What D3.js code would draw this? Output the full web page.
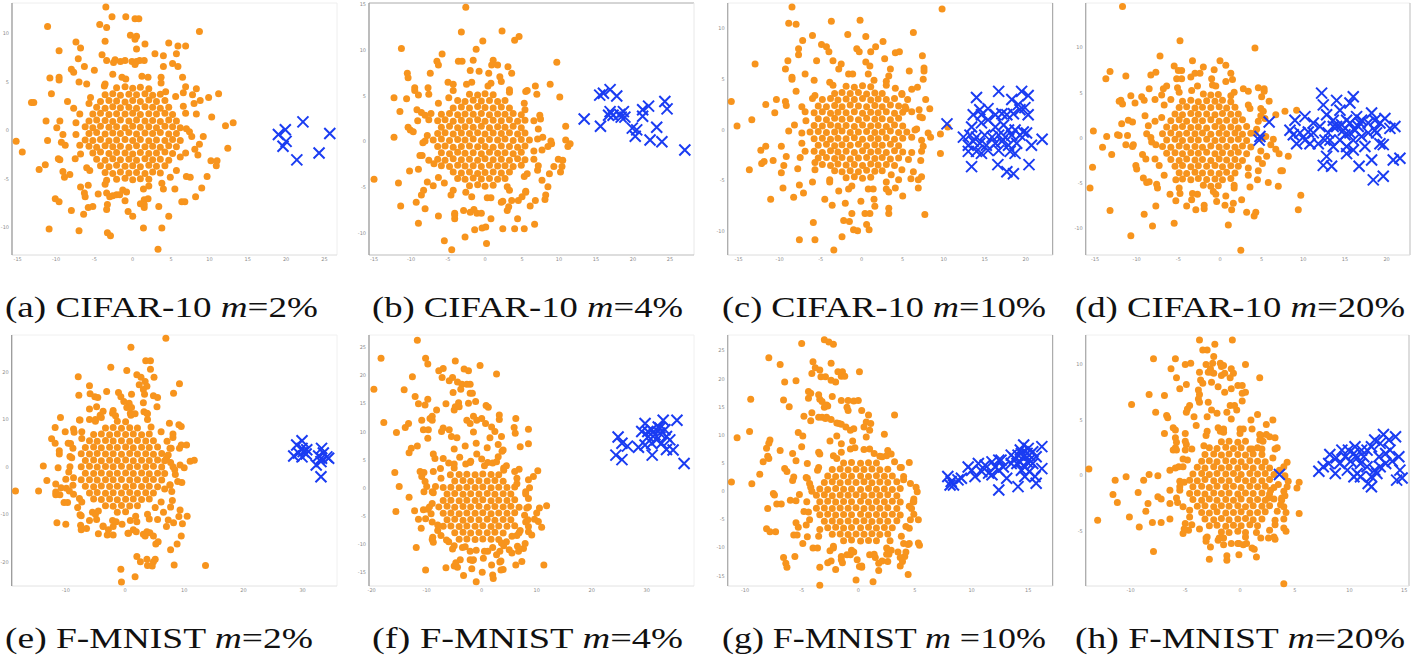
<!DOCTYPE html>
<meta charset="utf-8">
<style>
body{margin:0;background:#fff;}
.tick-label{font-family:"DejaVu Sans",sans-serif;font-size:5px;fill:#8c8c8c;}
.caption{font-family:"Liberation Serif","DejaVu Serif",serif;font-size:29px;fill:#111;}
</style>
<body>
<div id="fig"></div>
<script src="https://d3js.org/d3.v7.min.js"></script>
<script>
// ---- caption text ----
var panelLetters = ["(a)","(b)","(c)","(d)","(e)","(f)","(g)","(h)"];
var datasetNames = ["CIFAR-10","CIFAR-10","CIFAR-10","CIFAR-10","F-MNIST","F-MNIST","F-MNIST","F-MNIST"];
var mLabels = ["=2%","=4%","=10%","=20%","=2%","=4%"," =10%","=20%"];

// ---- axis domains and tick labels ----
var xDomains = [[-15.74,26.64],[-15.68,28.24],[-16.34,23.29],[-16.12,22.81],[-19.14,35.81],[-20.49,38.6],[-11.53,17.16],[-14.09,15.43]];
var yDomains = [[-12.78,13.12],[-12.36,15.16],[-12.29,12.49],[-12.92,14.98],[-25.04,27.91],[-17.35,27.23],[-16.75,27.83],[-9.91,12.64]];
var xTickVals = [[-15,-10,-5,0,5,10,15,20,25],[-15,-10,-5,0,5,10,15,20,25],[-15,-10,-5,0,5,10,15,20],[-15,-10,-5,0,5,10,15,20],
                 [-10,0,10,20,30],[-20,-10,0,10,20,30],[-10,-5,0,5,10,15],[-10,-5,0,5,10,15]];
var yTickVals = [[-10,-5,0,5,10],[-10,-5,0,5,10,15],[-10,-5,0,5,10],[-10,-5,0,5,10],
                 [-20,-10,0,10,20],[-15,-10,-5,0,5,10,15,20,25],[-15,-10,-5,0,5,10,15,20,25],[-5,0,5,10]];

// ---- (a) CIFAR-10 m=2% ----
var orangeA = [
[-2.1,4.4],[-1.0,4.5],[0.0,4.35],[1.0,4.45],[2.1,4.3],
[-3.6,3.7],[-2.6,3.8],[-1.6,3.65],[-0.5,3.75],[0.5,3.7],[1.6,3.8],[2.6,3.65],[3.6,3.75],
[-4.2,3.0],[-3.1,3.1],[-2.1,3.05],[-1.0,2.95],[0.0,3.1],[1.0,3.0],[2.1,3.15],[3.1,3.0],[4.2,3.1],
[-4.7,2.4],[-3.6,2.3],[-2.6,2.45],[-1.6,2.35],[-0.5,2.4],[0.5,2.3],[1.6,2.45],[2.6,2.4],[3.6,2.3],[4.7,2.4],
[-5.2,1.7],[-4.2,1.8],[-3.1,1.65],[-2.1,1.75],[-1.0,1.7],[0.0,1.8],[1.0,1.65],[2.1,1.75],[3.1,1.7],[4.2,1.8],[5.2,1.65],
[-5.7,1.0],[-4.7,1.1],[-3.6,1.05],[-2.6,0.95],[-1.6,1.1],[-0.5,1.0],[0.5,1.1],[1.6,1.0],[2.6,1.05],[3.6,0.95],[4.7,1.1],[5.7,1.0],
[-6.2,0.4],[-5.2,0.3],[-4.2,0.45],[-3.1,0.35],[-2.1,0.4],[-1.0,0.3],[0.0,0.45],[1.0,0.35],[2.1,0.4],[3.1,0.3],[4.2,0.45],[5.2,0.4],[6.2,0.3],
[-5.7,-0.3],[-4.7,-0.2],[-3.6,-0.35],[-2.6,-0.25],[-1.6,-0.3],[-0.5,-0.2],[0.5,-0.35],[1.6,-0.25],[2.6,-0.3],[3.6,-0.2],[4.7,-0.35],[5.7,-0.3],
[-6.2,-0.95],[-5.2,-1.0],[-4.2,-0.9],[-3.1,-1.05],[-2.1,-0.95],[-1.0,-0.9],[0.0,-1.0],[1.0,-0.9],[2.1,-1.05],[3.1,-0.95],[4.2,-1.0],[5.2,-0.9],[6.2,-1.0],
[-5.7,-1.6],[-4.7,-1.7],[-3.6,-1.55],[-2.6,-1.65],[-1.6,-1.6],[-0.5,-1.7],[0.5,-1.55],[1.6,-1.65],[2.6,-1.6],[3.6,-1.7],[4.7,-1.55],[5.7,-1.65],
[-5.2,-2.3],[-4.2,-2.2],[-3.1,-2.35],[-2.1,-2.25],[-1.0,-2.3],[0.0,-2.4],[1.0,-2.25],[2.1,-2.35],[3.1,-2.3],[4.2,-2.2],[5.2,-2.35],
[-4.7,-2.95],[-3.6,-3.05],[-2.6,-2.9],[-1.6,-3.0],[-0.5,-2.95],[0.5,-3.05],[1.6,-2.9],[2.6,-3.0],[3.6,-2.95],[4.7,-3.05],
[-4.2,-3.6],[-3.1,-3.7],[-2.1,-3.55],[-1.0,-3.65],[0.0,-3.6],[1.0,-3.7],[2.1,-3.55],[3.1,-3.65],[4.2,-3.6],
[-3.6,-4.3],[-2.6,-4.4],[-1.6,-4.25],[-0.5,-4.35],[0.5,-4.3],[1.6,-4.4],[2.6,-4.25],[3.6,-4.35],
[-2.1,-5.0],[-1.0,-4.9],[0.0,-5.05],[1.0,-4.95],[2.1,-5.0],
[7.4,-0.1],[6.9,1.8],[5.6,3.5],[3.7,4.9],[1.2,5.6],[-1.4,5.5],[-3.6,4.8],[-5.5,3.4],[-6.9,1.7],[-7.4,-0.4],[-6.8,-2.4],[-5.6,-4.1],
[-3.6,-5.5],[-1.3,-6.1],[1.4,-6.0],[3.8,-5.4],[5.7,-4.1],[6.9,-2.3],
[-3.5,12.7],[-2.7,11.7],[-0.9,11.7],[0.3,11.5],[0.8,11.5],[-11.1,10.7],[-4.3,10.9],[-3.4,10.6],[8.7,10.2],[-0.3,9.8],[0.5,9.7],[0.3,9.4],
[-3.6,9.2],[-7.4,9.1],[1.6,8.9],[4.7,9.0],[5.9,8.7],[6.9,8.7],[-9.6,8.2],[-6.8,8.5],[0.5,8.4],[2.9,7.9],[4.0,7.7],[5.7,7.9],[-4.0,7.8],
[-7.1,7.4],[-2.3,7.3],[-1.6,7.1],[-1.0,7.2],[-0.1,7.1],[0.5,7.1],[0.9,7.2],[5.2,6.9],[5.9,6.6],[-6.3,6.6],[-8.0,6.3],[-7.7,6.0],
[-10.8,5.4],[-9.6,5.5],[-9.6,5.2],[-10.6,3.8],[-13.2,2.9],[-12.9,2.9],[-11.3,1.0],[11.2,3.8],[9.9,3.4],[8.8,3.1],[7.8,3.7],[6.6,3.9],
[10.3,1.4],[13.1,0.8],[12.1,0.5],[-15.2,-1.1],[-14.4,-2.2],[12.4,-1.8],[-11.1,-1.0],[-12.2,-4.0],[-11.4,-3.5],[-9.9,0.3],[-9.3,-1.2],
[-9.7,-2.9],[-9.1,-4.2],[-8.9,-4.8],[10.2,-3.1],[11.0,-3.1],[10.9,-3.6],[8.7,-1.4],[9.2,-0.6],[9.7,-4.7],[9.0,-5.9],[8.2,-6.8],[6.4,-7.3],
[6.8,-7.3],[-10.1,-7.0],[-9.6,-7.3],[-8.0,-8.2],[-6.4,-8.6],[-5.8,-7.9],[-5.2,-7.8],[-6.3,-6.4],[-6.2,-6.8],[-3.4,-8.1],[-3.4,-6.4],
[-3.0,-6.8],[-2.1,-6.6],[-1.7,-6.6],[-0.6,-8.3],[0.0,-8.8],[1.5,-7.1],[1.5,-7.6],[1.5,-7.9],[4.7,-8.8],[-10.9,-10.1],[-7.0,-10.3],
[-3.3,-10.5],[-2.9,-10.8],[1.4,-10.0],[3.8,-10.0],[3.3,-12.2],
[-8.5,3.0],[-8.8,-1.5],[-8.2,-4.5],[8.5,-2.5],[8.0,2.8],[7.5,-4.8],[-7.0,5.0],[6.5,5.5],[-2.5,7.0],[1.5,7.2],[4.0,6.6],[-5.0,6.2],
[-4.5,-6.5],[-1.0,-7.2],[2.0,-7.0],[5.5,-6.0],[-6.8,-5.8],[-9.5,1.0]];
var ringA = [[7.0,0.2],[8.3,1.7],[6.6,2.5],[6.9,4.5],[4.3,4.0],[3.7,5.5],[2.0,5.5],[0.3,6.8],[-0.9,5.3],[-2.6,5.8],[-3.7,4.6],[-6.0,4.8],
[-5.7,2.8],[-7.7,2.3],[-7.4,0.8],[-9.1,-0.4],[-6.9,-1.5],[-7.5,-2.9],[-6.0,-3.8],[-5.8,-5.6],[-3.4,-5.1],[-2.6,-6.7],[-0.8,-6.3],
[1.0,-7.5],[2.1,-5.7],[4.0,-6.0],[4.9,-4.8],[7.0,-4.7],[6.2,-2.7],[8.1,-1.9],[7.7,-0.6],[8.3,4.3],[-3.4,7.2],[-9.5,-3.0],[3.4,-7.8],[-3.3,-7.6]];
var blueA = [[19.0,-0.4],[19.9,0.1],[20.0,-1.1],[19.6,-1.6],[22.2,0.9],[21.4,-3.0],[24.3,-2.3],[25.7,-0.3]];

// ---- (b) CIFAR-10 m=4% ----
var orangeB = [
[-2.1,5.2],[-1.0,5.1],[0.0,5.25],[1.1,5.15],
[-3.7,4.5],[-2.7,4.4],[-1.6,4.55],[-0.5,4.45],[0.6,4.5],[1.7,4.4],[2.7,4.5],
[-4.3,3.7],[-3.2,3.8],[-2.1,3.7],[-1.0,3.85],[0.0,3.75],[1.1,3.7],[2.2,3.8],[3.3,3.7],
[-5.9,3.0],[-4.8,3.1],[-3.7,2.95],[-2.7,3.05],[-1.6,3.0],[-0.5,3.1],[0.6,2.95],[1.7,3.05],[2.7,3.0],[3.8,3.1],[4.9,2.95],
[-6.4,2.3],[-5.4,2.4],[-4.3,2.25],[-3.2,2.35],[-2.1,2.3],[-1.0,2.4],[0.0,2.25],[1.1,2.35],[2.2,2.3],[3.3,2.4],[4.4,2.25],[5.4,2.35],
[-5.9,1.6],[-4.8,1.7],[-3.7,1.55],[-2.7,1.65],[-1.6,1.6],[-0.5,1.7],[0.6,1.55],[1.7,1.65],[2.7,1.6],[3.8,1.7],[4.9,1.55],
[-6.4,0.9],[-5.4,1.0],[-4.3,0.85],[-3.2,0.95],[-2.1,0.9],[-1.0,1.0],[0.0,0.85],[1.1,0.95],[2.2,0.9],[3.3,1.0],[4.4,0.85],[5.4,0.95],
[-7.0,0.2],[-5.9,0.3],[-4.8,0.15],[-3.7,0.25],[-2.7,0.2],[-1.6,0.3],[-0.5,0.15],[0.6,0.25],[1.7,0.2],[2.7,0.3],[3.8,0.15],[4.9,0.25],[6.0,0.2],
[-6.4,-0.5],[-5.4,-0.45],[-4.3,-0.6],[-3.2,-0.5],[-2.1,-0.45],[-1.0,-0.55],[0.0,-0.5],[1.1,-0.6],[2.2,-0.45],[3.3,-0.5],[4.4,-0.6],[5.4,-0.45],
[-5.9,-1.2],[-4.8,-1.3],[-3.7,-1.15],[-2.7,-1.25],[-1.6,-1.2],[-0.5,-1.3],[0.6,-1.15],[1.7,-1.25],[2.7,-1.2],[3.8,-1.3],[4.9,-1.15],
[-6.4,-1.9],[-5.4,-2.0],[-4.3,-1.85],[-3.2,-1.95],[-2.1,-1.9],[-1.0,-2.0],[0.0,-1.85],[1.1,-1.95],[2.2,-1.9],[3.3,-2.0],[4.4,-1.85],[5.4,-1.95],
[-5.9,-2.6],[-4.8,-2.7],[-3.7,-2.55],[-2.7,-2.65],[-1.6,-2.6],[-0.5,-2.7],[0.6,-2.55],[1.7,-2.65],[2.7,-2.6],[3.8,-2.7],[4.9,-2.55],
[-4.3,-3.3],[-3.2,-3.4],[-2.1,-3.3],[-1.0,-3.45],[0.0,-3.35],[1.1,-3.3],[2.2,-3.4],[3.3,-3.3],
[-3.7,-4.0],[-2.7,-4.1],[-1.6,-3.95],[-0.5,-4.05],[0.6,-4.0],[1.7,-4.1],[2.7,-4.0],
[-2.1,-4.8],[-1.0,-4.7],[0.0,-4.85],[1.1,-4.75],
[7.1,0.3],[6.6,2.3],[5.3,4.2],[3.3,5.7],[0.8,6.4],[-1.8,6.5],[-4.3,5.6],[-6.3,4.2],[-7.6,2.4],[-8.1,0.1],[-7.6,-2.0],[-6.3,-3.9],
[-4.3,-5.3],[-1.8,-6.0],[0.8,-6.1],[3.3,-5.3],[5.3,-3.8],[6.6,-1.9],
[-2.6,14.7],[-3.2,12.0],[2.3,12.1],[4.6,11.5],[4.0,11.1],[-0.3,11.0],[-11.3,10.2],[-1.2,10.1],[9.7,8.7],[-5.8,9.6],[-6.5,8.8],[-6.3,8.4],
[-3.6,8.8],[-3.1,8.8],[-1.6,8.9],[1.1,8.9],[0.9,8.4],[1.7,8.4],[3.6,7.5],[-10.5,7.5],[-10.4,7.0],[-7.4,7.5],[2.0,7.1],[-9.5,5.9],
[-9.5,5.6],[-7.7,5.9],[-12.3,4.8],[-10.6,4.7],[-11.5,3.3],[8.8,6.3],[10.1,4.9],[6.8,6.1],[7.0,5.2],[5.5,5.5],[-9.2,3.5],[-8.6,3.2],
[-8.1,2.9],[-10.4,1.6],[-10.1,1.3],[-9.7,1.1],[-12.3,0.5],[10.9,1.7],[10.9,0.2],[11.2,-0.5],[11.5,-0.2],[9.9,-1.9],[10.5,-2.0],
[10.4,-2.7],[10.2,-3.3],[-15.0,-4.1],[-11.7,-4.5],[-10.2,-3.2],[-11.4,-7.0],[-9.3,-6.6],[-8.6,-5.8],[-9.0,-8.9],[-8.3,-5.3],[-8.1,-7.3],
[-6.3,-8.1],[-5.5,-10.8],[-4.5,-11.8],[-2.7,-10.4],[-1.4,-9.6],[0.2,-11.1],[-4.1,-8.4],[-4.1,-8.0],[-2.9,-7.5],[-2.0,-7.7],[-1.1,-7.8],
[-0.5,-7.8],[0.8,-8.4],[0.1,-9.3],[-0.4,-9.4],[2.4,-9.5],[4.0,-9.5],[5.3,-9.5],[6.7,-9.0],[4.4,-8.4],[6.1,-7.0],[6.8,-6.4],[8.1,-6.3],
[8.2,-5.8],[8.5,-4.9],[7.7,-4.2],[7.1,-3.1],[7.7,-0.9],[8.5,-0.5],[9.0,-0.2],[8.7,-3.5],[3.2,-7.1],[3.6,-6.4],[2.4,-6.5],[4.5,-6.4],[5.0,-6.0],
[-8.5,-1.5],[-9.0,-3.0],[7.5,2.5],[7.8,0.5],[-2.0,7.8],[0.5,7.5],[-5.0,6.5],[-7.0,-4.8],[5.5,-5.5]];
var ringB = [[-7.8,0.7],[-9.1,2.3],[-7.3,3.1],[-7.6,5.2],[-4.9,4.8],[-4.3,6.3],[-2.5,6.3],[-0.8,7.7],[0.4,6.1],[2.2,6.6],[3.3,5.4],[5.7,5.6],
[5.4,3.5],[7.4,2.9],[7.2,1.4],[8.9,0.1],[6.6,-1.0],[7.2,-2.6],[5.7,-3.5],[5.5,-5.4],[3.0,-4.9],[2.2,-6.6],[0.3,-6.1],[-1.5,-7.4],
[-2.6,-5.5],[-4.6,-5.8],[-5.5,-4.5],[-7.8,-4.4],[-6.9,-2.4],[-8.8,-1.5],[-8.4,-0.1],[-9.0,5.1],[3.1,8.2],[9.3,-2.7],[-4.1,-7.8],[3.0,-7.5]];
var blueB = [[13.4,2.5],[15.6,1.7],[15.5,5.1],[16.0,5.3],[16.9,5.7],[17.8,5.0],[16.7,2.9],[16.9,3.3],[17.3,2.9],[18.2,3.0],[18.7,3.3],
[18.9,2.7],[18.4,2.7],[19.9,1.5],[20.5,1.3],[20.3,0.6],[21.3,3.5],[21.3,2.8],[22.1,3.9],[22.3,0.2],[23.2,1.6],[23.9,0.0],[24.3,4.4],
[24.6,3.6],[27.0,-0.9]];

// ---- (c) CIFAR-10 m=10% ----
var orangeC = [
[-1.9,4.3],[-0.9,4.2],[0.1,4.35],[1.1,4.25],
[-3.3,3.6],[-2.4,3.7],[-1.4,3.6],[-0.4,3.7],[0.6,3.55],[1.6,3.65],[2.5,3.6],
[-4.8,3.0],[-3.8,3.1],[-2.9,2.95],[-1.9,3.05],[-0.9,3.0],[0.1,3.1],[1.1,2.95],[2.0,3.05],[3.0,3.0],[4.0,3.1],
[-5.3,2.35],[-4.3,2.3],[-3.3,2.4],[-2.4,2.3],[-1.4,2.45],[-0.4,2.35],[0.6,2.3],[1.6,2.4],[2.5,2.3],[3.5,2.45],[4.5,2.35],
[-5.8,1.7],[-4.8,1.8],[-3.8,1.65],[-2.9,1.75],[-1.9,1.7],[-0.9,1.8],[0.1,1.65],[1.1,1.75],[2.0,1.7],[3.0,1.8],[4.0,1.65],[5.0,1.75],
[-5.3,1.1],[-4.3,1.0],[-3.3,1.15],[-2.4,1.05],[-1.4,1.1],[-0.4,1.0],[0.6,1.15],[1.6,1.05],[2.5,1.1],[3.5,1.0],[4.5,1.15],
[-5.8,0.45],[-4.8,0.4],[-3.8,0.5],[-2.9,0.4],[-1.9,0.45],[-0.9,0.35],[0.1,0.5],[1.1,0.4],[2.0,0.45],[3.0,0.35],[4.0,0.5],[5.0,0.4],
[-6.3,-0.2],[-5.3,-0.15],[-4.3,-0.25],[-3.3,-0.2],[-2.4,-0.1],[-1.4,-0.25],[-0.4,-0.2],[0.6,-0.15],[1.6,-0.25],[2.5,-0.2],[3.5,-0.1],[4.5,-0.25],[5.5,-0.2],
[-5.8,-0.85],[-4.8,-0.8],[-3.8,-0.9],[-2.9,-0.8],[-1.9,-0.85],[-0.9,-0.75],[0.1,-0.9],[1.1,-0.8],[2.0,-0.85],[3.0,-0.75],[4.0,-0.9],[5.0,-0.8],
[-5.3,-1.5],[-4.3,-1.4],[-3.3,-1.55],[-2.4,-1.45],[-1.4,-1.5],[-0.4,-1.4],[0.6,-1.55],[1.6,-1.45],[2.5,-1.5],[3.5,-1.4],[4.5,-1.55],
[-5.8,-2.1],[-4.8,-2.2],[-3.8,-2.05],[-2.9,-2.15],[-1.9,-2.1],[-0.9,-2.2],[0.1,-2.05],[1.1,-2.15],[2.0,-2.1],[3.0,-2.2],[4.0,-2.05],[5.0,-2.15],
[-5.3,-2.75],[-4.3,-2.7],[-3.3,-2.8],[-2.4,-2.7],[-1.4,-2.85],[-0.4,-2.75],[0.6,-2.7],[1.6,-2.8],[2.5,-2.7],[3.5,-2.85],[4.5,-2.75],
[-4.8,-3.4],[-3.8,-3.5],[-2.9,-3.35],[-1.9,-3.45],[-0.9,-3.4],[0.1,-3.5],[1.1,-3.35],[2.0,-3.45],[3.0,-3.4],[4.0,-3.5],
[-3.3,-4.0],[-2.4,-4.1],[-1.4,-4.0],[-0.4,-4.1],[0.6,-3.95],[1.6,-4.05],[2.5,-4.0],
[-1.9,-4.7],[-0.9,-4.6],[0.1,-4.75],[1.1,-4.65],
[6.5,0.0],[6.1,1.8],[4.9,3.5],[3.0,4.8],[0.8,5.5],[-1.6,5.5],[-3.9,4.7],[-5.7,3.4],[-6.9,1.8],[-7.3,-0.3],[-6.9,-2.1],[-5.7,-3.9],
[-3.9,-5.1],[-1.6,-5.8],[0.8,-5.8],[3.0,-5.1],[4.9,-3.9],[6.1,-2.2],
[-8.5,12.1],[-8.9,10.5],[-8.0,10.4],[-3.7,10.7],[-0.2,10.8],[9.8,11.9],[-6.0,9.3],[-7.2,8.8],[-1.7,9.4],[0.5,9.2],[6.3,9.6],[2.6,8.7],
[-13.0,6.5],[-7.7,8.0],[-7.7,7.4],[-9.0,6.8],[-4.9,8.4],[-4.3,8.2],[-4.0,7.7],[-0.6,8.0],[-0.3,7.7],[1.7,8.2],[1.1,7.7],[4.1,7.6],
[4.6,7.7],[7.4,7.3],[7.6,6.1],[7.6,5.8],[7.5,5.0],[5.8,5.8],[-9.3,6.0],[-8.5,5.2],[-8.5,5.0],[-6.9,5.5],[-15.9,2.8],[-15.2,0.4],
[-13.4,1.0],[-11.7,2.5],[-10.4,3.0],[-9.3,2.8],[-10.6,1.7],[-12.3,-2.0],[-11.7,-1.6],[-13.7,-3.9],[-12.2,-3.3],[-11.9,-3.1],[-10.8,-3.0],
[-9.8,-1.6],[-9.2,-2.6],[-9.8,-4.2],[-9.5,-3.5],[-11.1,-6.8],[-9.6,-5.7],[-8.3,-6.6],[-7.6,-5.4],[-7.1,-6.2],[-5.9,-9.1],[-7.6,-10.8],
[-5.7,-10.8],[-3.4,-11.8],[-2.4,-10.5],[-2.2,-8.9],[-1.5,-9.0],[-1.2,-8.2],[-1.0,-9.8],[-0.5,-9.9],[0.9,-9.8],[0.6,-9.3],[0.4,-8.2],
[1.0,-8.2],[1.6,-7.5],[3.3,-8.2],[3.3,-7.7],[7.7,-8.3],[6.9,-4.9],[6.9,-5.7],[6.3,-4.1],[4.5,-4.9],[4.1,-5.7],[3.3,-6.1],[7.5,-1.6],
[7.3,-1.0],[8.4,-0.7],[8.1,-0.3],[9.6,-0.4],[9.6,-2.3],[10.5,0.3],[7.8,3.0],[8.3,2.1],[7.4,1.2],[5.6,3.0],[5.3,2.3],[4.9,3.6],[3.0,4.4],
[-7.8,-3.8],[-8.2,0.5],[-8.0,3.8],[6.8,4.2],[-5.5,6.8],[-2.5,6.5],[1.0,6.3],[3.5,6.0],[-4.5,-6.8],[-2.0,-7.2],[1.5,-6.8],[5.0,-6.5],
[7.2,-3.0],[7.0,2.0]];
var ringC = [[6.1,-0.7],[7.3,-2.1],[5.7,-2.9],[6.0,-4.8],[3.6,-4.4],[3.0,-5.8],[1.4,-5.8],[-0.1,-7.0],[-1.2,-5.5],[-2.8,-6.0],[-3.9,-4.9],
[-6.0,-5.1],[-5.7,-3.2],[-7.5,-2.7],[-7.3,-1.3],[-8.9,-0.1],[-6.8,0.9],[-7.3,2.3],[-6.0,3.1],[-5.8,4.9],[-3.5,4.4],[-2.8,6.0],[-1.1,5.5],
[0.5,6.7],[1.5,4.9],[3.3,5.3],[4.1,4.1],[6.1,4.0],[5.4,2.1],[7.1,1.3],[6.7,0.1],[7.3,-4.6],[-3.6,-7.4],[-9.2,2.4],[2.8,7.0],[-3.5,6.8]];
var blueC = [[10.4,0.6],[14.0,3.2],[16.7,3.8],[19.5,3.8],[20.3,3.4],[18.3,3.0],[19.1,2.5],[19.9,2.2],[15.4,2.1],[14.4,2.0],[13.6,1.5],
[14.6,1.5],[16.3,1.5],[17.1,1.6],[17.7,1.5],[18.5,1.6],[19.3,2.0],[20.3,1.5],[13.4,0.3],[14.6,0.7],[15.4,1.0],[16.3,0.3],[17.3,0.5],
[17.9,0.0],[18.7,0.0],[19.7,-0.2],[20.1,-0.3],[12.4,-0.7],[13.2,-0.5],[14.0,-0.7],[15.0,-0.5],[15.9,-0.7],[16.7,-0.5],[17.5,-0.7],
[18.3,-0.5],[19.3,-0.5],[22.0,-0.9],[13.0,-1.5],[13.6,-1.1],[14.4,-1.3],[15.2,-1.5],[16.3,-1.3],[17.1,-1.1],[17.9,-1.5],[18.9,-1.3],
[20.7,-1.5],[13.0,-2.1],[14.0,-2.1],[14.6,-2.3],[15.4,-2.0],[16.7,-2.0],[18.1,-2.1],[18.7,-2.3],[13.4,-3.6],[16.6,-3.4],[17.7,-4.1],
[18.5,-4.3],[20.4,-3.4]];

// ---- (d) CIFAR-10 m=20% ----
var orangeD = [
[-2.0,4.9],[-1.1,4.8],[-0.2,4.85],
[-4.5,4.1],[-3.5,4.2],[-2.6,4.05],[-1.6,4.15],[-0.6,4.1],[0.3,4.2],[1.3,4.05],
[-4.9,3.4],[-4.0,3.5],[-3.0,3.35],[-2.1,3.45],[-1.1,3.4],[-0.1,3.5],[0.8,3.35],[1.8,3.45],
[-5.4,2.7],[-4.5,2.6],[-3.5,2.75],[-2.6,2.65],[-1.6,2.7],[-0.6,2.6],[0.3,2.75],[1.3,2.65],[2.2,2.7],
[-5.9,1.95],[-4.9,2.05],[-4.0,1.9],[-3.0,2.0],[-2.1,1.95],[-1.1,2.05],[-0.1,1.9],[0.8,2.0],[1.8,1.95],[2.7,2.05],
[-6.4,1.25],[-5.4,1.2],[-4.5,1.3],[-3.5,1.2],[-2.6,1.25],[-1.6,1.15],[-0.6,1.3],[0.3,1.2],[1.3,1.25],[2.2,1.15],[3.2,1.3],
[-6.9,0.5],[-5.9,0.6],[-4.9,0.45],[-4.0,0.55],[-3.0,0.5],[-2.1,0.6],[-1.1,0.45],[-0.1,0.55],[0.8,0.5],[1.8,0.6],[2.7,0.45],[3.7,0.55],
[-6.4,-0.2],[-5.4,-0.1],[-4.5,-0.25],[-3.5,-0.15],[-2.6,-0.2],[-1.6,-0.1],[-0.6,-0.25],[0.3,-0.15],[1.3,-0.2],[2.2,-0.1],[3.2,-0.25],
[-6.9,-0.9],[-5.9,-1.0],[-4.9,-0.85],[-4.0,-0.95],[-3.0,-0.9],[-2.1,-1.0],[-1.1,-0.85],[-0.1,-0.95],[0.8,-0.9],[1.8,-1.0],[2.7,-0.85],[3.7,-0.95],
[-6.4,-1.65],[-5.4,-1.6],[-4.5,-1.7],[-3.5,-1.6],[-2.6,-1.65],[-1.6,-1.55],[-0.6,-1.7],[0.3,-1.6],[1.3,-1.65],[2.2,-1.55],[3.2,-1.7],
[-5.9,-2.35],[-4.9,-2.45],[-4.0,-2.3],[-3.0,-2.4],[-2.1,-2.35],[-1.1,-2.45],[-0.1,-2.3],[0.8,-2.4],[1.8,-2.35],[2.7,-2.45],
[-5.4,-3.1],[-4.5,-3.0],[-3.5,-3.15],[-2.6,-3.05],[-1.6,-3.1],[-0.6,-3.0],[0.3,-3.15],[1.3,-3.05],[2.2,-3.1],
[-4.9,-3.8],[-4.0,-3.9],[-3.0,-3.75],[-2.1,-3.85],[-1.1,-3.8],[-0.1,-3.9],[0.8,-3.75],[1.8,-3.85],
[-4.5,-4.5],[-3.5,-4.6],[-2.6,-4.45],[-1.6,-4.55],[-0.6,-4.5],[0.3,-4.6],[1.3,-4.45],
[-2.0,-5.2],[-1.1,-5.3],[-0.2,-5.25],
[5.0,0.0],[4.6,1.9],[3.4,3.7],[1.7,5.1],[-0.5,5.8],[-2.7,5.8],[-4.9,5.1],[-6.7,3.7],[-7.8,1.9],[-8.2,-0.4],[-7.8,-2.3],[-6.7,-4.1],
[-4.9,-5.5],[-2.7,-6.2],[-0.5,-6.2],[1.7,-5.5],[3.4,-4.1],[4.6,-2.3],
[-11.7,14.6],[-4.8,10.8],[4.2,10.0],[-7.2,9.1],[-3.3,8.6],[0.0,8.6],[0.7,8.1],[-5.5,8.0],[-5.0,7.5],[-5.2,6.6],[-4.6,6.6],[-3.5,6.8],
[-2.0,7.9],[-0.7,7.6],[-1.0,6.6],[-8.3,7.0],[-7.7,7.3],[-13.2,7.4],[-13.7,6.6],[-11.3,6.9],[-8.5,5.5],[-6.8,5.5],[-6.4,5.8],[-11.9,4.2],
[-12.1,4.1],[-11.7,3.8],[-10.7,4.7],[-10.2,3.9],[-9.4,4.6],[-9.1,4.2],[-15.2,0.8],[-13.6,0.2],[-14.1,-1.0],[-13.0,-1.8],[-11.8,1.6],
[-12.3,0.4],[-12.1,0.3],[-11.1,0.3],[-11.0,2.0],[-10.5,1.8],[-11.3,-0.7],[-10.4,-0.7],[-10.5,-0.9],[-15.3,-3.2],[-15.6,-5.5],[-13.2,-8.0],
[-10.7,-10.8],[-9.1,-8.4],[-8.1,-9.7],[-7.7,-7.5],[-10.1,-3.0],[-10.0,-3.4],[-9.2,-4.4],[-8.5,-4.8],[-5.5,-9.4],[1.0,-9.6],[2.5,-12.4],
[3.2,-8.2],[4.3,-8.2],[4.1,-8.6],[-2.9,-7.9],[-1.9,-7.8],[-0.4,-7.0],[0.6,-7.4],[1.6,-7.2],[2.6,-6.8],[-5.3,-6.9],[-4.0,-7.5],[-3.4,-6.8],
[5.0,4.6],[5.3,5.5],[5.3,5.2],[4.6,5.6],[5.9,4.1],[7.8,3.0],[9.2,3.1],[6.1,-0.7],[6.7,-1.2],[7.1,-1.7],[8.2,-2.0],[7.3,-3.6],[7.5,-3.6],
[5.8,-4.9],[7.0,-5.3],[4.6,-3.6],[4.5,-4.6],[9.7,-6.3],[9.4,-7.9],[4.9,3.3],[5.4,2.2],[4.2,0.6],
[-9.0,2.5],[-9.3,-1.8],[-8.8,0.5],[-7.5,-5.5],[-6.0,-6.2],[5.5,0.2],[5.6,-2.0],[5.2,3.0],[-3.0,7.2],[1.5,6.5],[-7.0,4.8],[2.8,5.5]];
var ringD = [[-7.7,-0.7],[-8.9,-2.3],[-7.3,-3.0],[-7.6,-5.1],[-5.3,-4.6],[-4.8,-6.1],[-3.3,-6.1],[-1.9,-7.4],[-0.8,-5.9],[0.7,-6.4],
[1.7,-5.2],[3.6,-5.4],[3.4,-3.3],[5.1,-2.8],[4.9,-1.4],[6.4,-0.1],[4.4,1.0],[4.9,2.5],[3.6,3.3],[3.4,5.2],[1.3,4.7],[0.7,6.3],
[-0.9,5.9],[-2.4,7.2],[-3.4,5.3],[-5.1,5.6],[-5.9,4.3],[-7.8,4.3],[-7.0,2.3],[-8.6,1.4],[-8.3,0.1],[-8.8,-4.9],[1.4,-7.9],[6.7,2.6],
[-4.6,7.5],[1.3,7.2]];
var blueD = [[5.9,1.8],[4.8,0.2],[4.7,-0.2],[9.0,2.0],[9.6,0.6],[9.2,-0.6],[10.2,2.4],[10.6,0.7],[10.8,-0.6],[11.2,1.7],[12.2,5.0],
[12.4,3.7],[12.8,2.6],[12.0,1.3],[12.6,-0.2],[13.0,0.6],[13.6,2.0],[14.0,4.2],[14.4,3.1],[14.8,0.9],[15.2,2.0],[15.6,3.9],[16.0,4.6],
[16.4,2.4],[16.6,1.3],[17.0,0.2],[17.4,-0.9],[16.8,1.7],[15.6,0.6],[14.4,-0.2],[13.6,-0.9],[12.8,-2.0],[12.4,-3.0],[13.4,-3.1],
[15.2,-0.9],[16.0,-1.3],[18.2,2.8],[18.6,2.0],[19.2,1.7],[19.8,2.2],[20.4,1.1],[21.0,1.3],[18.8,0.6],[19.2,-0.6],[19.6,-0.7],
[18.2,-2.4],[16.7,-3.1],[18.4,-4.6],[19.6,-4.2],[20.8,-2.4],[21.6,-2.2],[17.8,0.6],[15.2,-1.7],[14.0,1.3],[11.8,-0.6],[10.2,-0.2],
[8.4,0.9],[8.8,0.4],[13.6,1.3],[14.6,1.5],[15.6,1.7],[16.2,0.9],[15.0,0.4],[13.2,-0.2],[16.0,-0.2],[17.0,2.0],[17.8,1.7],[18.6,0.9],
[11.2,0.6]];

// ---- (e) F-MNIST m=2% ----
var orangeE = [
[-1.3,9.7],[0.1,9.6],
[-3.3,8.3],[-2.0,8.4],[-0.6,8.25],[0.8,8.35],[2.1,8.3],
[-5.3,6.9],[-4.0,7.0],[-2.6,6.85],[-1.3,7.05],[0.1,6.9],[1.4,7.0],[2.8,6.85],[4.1,7.0],
[-6.0,5.6],[-4.7,5.5],[-3.3,5.65],[-2.0,5.55],[-0.6,5.6],[0.8,5.5],[2.1,5.65],[3.5,5.55],[4.8,5.6],
[-6.7,4.2],[-5.3,4.3],[-4.0,4.15],[-2.6,4.25],[-1.3,4.2],[0.1,4.3],[1.4,4.15],[2.8,4.25],[4.1,4.2],[5.5,4.3],
[-7.4,2.85],[-6.0,2.8],[-4.7,2.9],[-3.3,2.8],[-2.0,2.85],[-0.6,2.75],[0.8,2.9],[2.1,2.8],[3.5,2.85],[4.8,2.75],[6.2,2.9],
[-6.7,1.45],[-5.3,1.55],[-4.0,1.4],[-2.6,1.5],[-1.3,1.45],[0.1,1.55],[1.4,1.4],[2.8,1.5],[4.1,1.45],[5.5,1.55],[6.7,1.4],
[-7.4,0.1],[-6.0,0.2],[-4.7,0.05],[-3.3,0.15],[-2.0,0.1],[-0.6,0.2],[0.8,0.05],[2.1,0.15],[3.5,0.1],[4.8,0.2],[6.2,0.05],
[-6.7,-1.25],[-5.3,-1.3],[-4.0,-1.2],[-2.6,-1.35],[-1.3,-1.25],[0.1,-1.2],[1.4,-1.3],[2.8,-1.2],[4.1,-1.35],[5.5,-1.25],[6.7,-1.3],
[-7.4,-2.65],[-6.0,-2.6],[-4.7,-2.7],[-3.3,-2.6],[-2.0,-2.65],[-0.6,-2.55],[0.8,-2.7],[2.1,-2.6],[3.5,-2.65],[4.8,-2.55],[6.2,-2.7],
[-6.7,-4.0],[-5.3,-4.1],[-4.0,-3.95],[-2.6,-4.05],[-1.3,-4.0],[0.1,-4.1],[1.4,-3.95],[2.8,-4.05],[4.1,-4.0],[5.5,-4.1],
[-6.0,-5.4],[-4.7,-5.3],[-3.3,-5.45],[-2.0,-5.35],[-0.6,-5.4],[0.8,-5.3],[2.1,-5.45],[3.5,-5.35],[4.8,-5.4],
[-5.3,-6.7],[-4.0,-6.8],[-2.6,-6.7],[-1.3,-6.85],[0.1,-6.75],[1.4,-6.7],[2.8,-6.8],[4.1,-6.7],
[-3.3,-8.1],[-2.0,-8.2],[-0.6,-8.05],[0.8,-8.15],[2.1,-8.1],
[-1.3,-9.5],[0.1,-9.4],
[8.1,0.1],[7.6,4.0],[6.1,7.5],[3.8,10.1],[0.9,11.4],[-2.1,11.4],[-5.0,10.1],[-7.3,7.5],[-8.8,4.0],[-9.3,0.1],[-8.8,-3.8],[-7.3,-7.3],
[-5.0,-9.9],[-2.1,-11.2],[0.9,-11.2],[3.8,-9.9],[6.1,-7.3],[7.6,-3.8],
[6.9,27.2],[1.0,25.3],[3.5,22.5],[4.3,22.5],[-2.4,21.1],[4.3,20.7],[0.3,20.4],[2.0,19.5],[2.7,19.0],[-7.9,19.1],[4.9,19.0],[9.2,17.6],
[3.4,18.1],[3.7,17.1],[2.4,17.4],[3.1,16.4],[-6.0,17.2],[-3.1,16.0],[-7.8,15.2],[-5.9,15.5],[-5.1,14.9],[-1.1,15.8],[-0.7,14.9],
[1.1,15.4],[3.3,15.4],[4.8,15.1],[8.2,15.6],[5.5,14.7],[5.4,12.8],[0.7,13.5],[0.3,12.6],[1.1,12.6],[3.1,13.6],[3.2,11.7],[3.7,11.4],
[-6.0,12.3],[-4.8,12.8],[-4.2,11.0],[-10.9,10.5],[-11.8,8.4],[-7.6,10.0],[-6.0,10.1],[-8.7,8.1],[-8.6,7.4],[-12.4,6.0],[-11.8,5.1],
[-11.1,3.5],[-11.1,2.8],[-10.1,7.5],[9.5,8.6],[8.1,7.0],[8.1,6.3],[9.5,4.7],[10.4,4.7],[11.0,1.3],[11.7,1.5],[9.3,0.5],[10.0,-0.1],
[7.3,2.6],[7.0,1.9],[-13.8,0.3],[-13.2,-2.8],[-18.5,-5.0],[-14.6,-5.0],[-11.7,-3.5],[-10.8,-4.3],[-11.7,-5.8],[-11.0,-5.8],[-10.0,-2.5],
[-9.9,-4.4],[-8.7,-5.7],[-10.3,-7.4],[-9.7,-7.4],[-11.5,-11.7],[-10.0,-12.0],[-7.6,-10.0],[-7.5,-12.2],[-7.4,-13.2],[-6.5,-12.9],
[-6.0,-11.2],[-4.8,-11.0],[-3.7,-12.5],[-2.8,-13.2],[-2.0,-12.5],[-3.0,-14.3],[-2.0,-14.3],[0.6,-13.9],[1.4,-13.2],[1.9,-13.6],
[3.1,-14.1],[3.7,-13.6],[4.2,-13.8],[4.8,-14.5],[9.3,-9.0],[9.1,-10.4],[9.7,-11.9],[9.5,-14.5],[10.5,-10.3],[8.8,-16.2],[7.7,-17.4],
[8.3,-20.6],[13.6,-20.7],[2.0,-18.8],[2.6,-19.9],[3.7,-19.4],[4.8,-19.9],[5.1,-19.4],[4.6,-20.8],[3.8,-20.7],[-0.7,-21.5],[-0.6,-24.2],
[1.7,-23.1],[5.2,-16.2],[5.6,-15.7],[7.0,-12.5],[7.3,-11.1],[8.2,-11.7],[7.6,-3.7],[7.9,-5.1],[9.6,-3.2],
[-9.5,-1.0],[-9.0,2.0],[-9.2,5.0],[8.0,-7.0],[6.5,-9.5],[-2.0,12.0],[-8.0,-8.5],[-5.5,-9.5],[1.0,11.0],[-4.0,10.5],[7.8,4.0],
[8.5,-1.5],[2.0,-11.5],[-0.5,-12.0],[5.5,-11.0]];
var ringE = [[7.7,1.0],[9.2,4.0],[7.1,5.5],[7.5,9.3],[4.4,8.5],[3.8,11.3],[1.7,11.3],[-0.2,13.9],[-1.6,10.9],[-3.7,11.8],[-5.0,9.7],
[-7.7,10.0],[-7.3,6.1],[-9.6,5.1],[-9.3,2.3],[-11.3,-0.1],[-8.7,-2.2],[-9.4,-5.0],[-7.7,-6.6],[-7.4,-10.2],[-4.5,-9.2],[-3.7,-12.4],
[-1.5,-11.5],[0.5,-13.9],[1.8,-10.3],[4.1,-10.9],[5.1,-8.5],[7.7,-8.4],[6.7,-4.6],[8.9,-3.0],[8.4,-0.5],[9.1,9.0],[-4.6,14.7],
[-11.7,-5.2],[3.4,-14.5],[-4.5,-14.0]];
var blueE = [[29.9,5.6],[29.0,4.7],[28.5,2.4],[29.3,3.0],[29.9,4.0],[30.1,3.3],[30.7,3.7],[30.6,2.8],[29.9,2.2],[33.2,4.0],[33.5,3.0],
[32.7,2.4],[33.2,1.9],[34.1,2.2],[34.4,1.9],[32.3,0.5],[33.1,1.2],[33.1,-2.0]];

// ---- (f) F-MNIST m=4% ----
var orangeF = [
[-4.1,2.45],[-2.7,2.5],[-1.2,2.4],[0.2,2.55],[1.7,2.45],[3.1,2.4],
[-4.9,1.3],[-3.4,1.4],[-2.0,1.25],[-0.5,1.35],[1.0,1.3],[2.4,1.4],[3.9,1.25],
[-7.0,0.15],[-5.6,0.2],[-4.1,0.1],[-2.7,0.2],[-1.2,0.15],[0.2,0.25],[1.7,0.1],[3.1,0.2],[4.6,0.15],[6.0,0.25],
[-6.3,-1.0],[-4.9,-0.9],[-3.4,-1.05],[-2.0,-0.95],[-0.5,-1.0],[1.0,-0.9],[2.4,-1.05],[3.9,-0.95],[5.3,-1.0],
[-7.0,-2.15],[-5.6,-2.1],[-4.1,-2.2],[-2.7,-2.1],[-1.2,-2.15],[0.2,-2.05],[1.7,-2.2],[3.1,-2.1],[4.6,-2.15],[6.0,-2.05],
[-7.8,-3.3],[-6.3,-3.2],[-4.9,-3.35],[-3.4,-3.25],[-2.0,-3.3],[-0.5,-3.2],[1.0,-3.35],[2.4,-3.25],[3.9,-3.3],[5.3,-3.2],[6.8,-3.35],
[-7.0,-4.45],[-5.6,-4.4],[-4.1,-4.5],[-2.7,-4.4],[-1.2,-4.45],[0.2,-4.35],[1.7,-4.5],[3.1,-4.4],[4.6,-4.45],[6.0,-4.35],
[-6.3,-5.6],[-4.9,-5.5],[-3.4,-5.65],[-2.0,-5.55],[-0.5,-5.6],[1.0,-5.5],[2.4,-5.65],[3.9,-5.55],[5.3,-5.6],
[-7.0,-6.75],[-5.6,-6.7],[-4.1,-6.8],[-2.7,-6.7],[-1.2,-6.75],[0.2,-6.65],[1.7,-6.8],[3.1,-6.7],[4.6,-6.75],[6.0,-6.65],
[-4.9,-7.9],[-3.4,-7.8],[-2.0,-7.95],[-0.5,-7.85],[1.0,-7.9],[2.4,-7.8],[3.9,-7.95],
[-4.1,-9.05],[-2.7,-9.0],[-1.2,-9.1],[0.2,-9.0],[1.7,-9.05],[3.1,-9.1],
[8.5,-3.3],[8.0,-0.6],[6.4,1.8],[4.0,3.6],[1.1,4.6],[-2.1,4.6],[-5.0,3.6],[-7.4,1.8],[-9.0,-0.6],[-9.5,-3.3],[-9.0,-6.0],[-7.4,-8.4],
[-5.0,-10.2],[-2.1,-11.2],[1.1,-11.2],[4.0,-10.2],[6.4,-8.4],[8.0,-6.0],
[-11.7,26.3],[-18.3,23.1],[-19.6,17.6],[-10.2,23.1],[-9.8,22.1],[-4.8,22.6],[-0.3,21.8],[-12.6,19.8],[-7.8,20.9],[-7.0,21.3],
[-3.2,21.2],[-2.4,20.9],[2.7,20.3],[-7.2,19.7],[-5.9,19.1],[-5.3,19.7],[-4.4,18.9],[-3.6,18.5],[-2.7,18.5],[-2.1,18.5],[-3.8,17.6],
[-5.2,17.0],[-14.1,17.5],[-12.1,16.3],[-11.5,15.0],[-9.8,15.8],[-10.3,14.8],[-6.5,15.0],[-4.8,14.5],[-5.0,13.9],[-4.2,15.2],[-4.1,14.5],
[-2.1,16.9],[-1.7,16.9],[-2.4,15.1],[-1.1,15.4],[0.8,14.7],[1.2,14.4],[3.2,13.0],[-8.2,13.9],[-9.0,12.8],[-9.4,12.4],[-9.0,12.1],
[-17.8,11.7],[-13.9,10.8],[-13.3,11.5],[-15.5,9.9],[-10.9,12.1],[-10.6,10.4],[-9.7,10.4],[-9.8,8.9],[-11.7,7.5],[-13.2,6.3],[-12.8,7.1],
[-8.8,6.1],[-8.5,5.3],[-7.0,5.3],[-7.0,10.7],[-7.3,10.1],[-5.9,10.4],[-5.5,9.2],[-2.7,12.1],[-2.1,11.5],[-1.5,12.8],[-0.9,12.1],
[0.0,12.4],[0.7,11.5],[1.8,10.9],[2.4,10.1],[3.2,12.2],[6.2,12.4],[5.9,10.8],[6.1,9.8],[8.5,10.5],[8.5,7.9],[7.0,7.4],[3.6,9.2],
[3.9,6.8],[3.0,5.6],[-15.8,2.8],[-15.0,0.3],[-13.2,-1.6],[-15.6,-4.1],[-12.2,-4.0],[-11.9,-10.5],[-11.0,-7.1],[-11.5,-5.5],[-10.6,-3.8],
[-11.2,3.0],[-10.9,2.1],[-10.3,1.2],[-10.0,0.3],[-8.9,-8.7],[-8.8,-9.6],[-10.2,-14.5],[-6.5,-14.1],[-5.0,-13.8],[-4.4,-14.0],
[-3.3,-15.5],[-1.8,-14.3],[-1.0,-16.6],[0.1,-14.9],[2.0,-15.4],[2.1,-16.0],[3.5,-14.5],[3.9,-14.4],[6.2,-13.6],[7.3,-13.0],[11.3,-13.6],
[3.3,-13.1],[1.8,-13.6],[0.3,-12.4],[-1.5,-12.7],[-2.1,-12.7],[-3.9,-12.7],[10.2,3.1],[9.4,2.1],[8.5,1.5],[11.8,-3.1],[10.0,-4.4],
[10.3,-5.9],[9.6,-5.5],[8.4,-5.6],[8.5,-7.7],[9.1,-8.3],[7.6,-10.7],[7.9,-9.8],[6.7,-11.2],[5.0,-10.9],[5.5,-11.5],[3.3,-11.2],
[-6.0,4.5],[-4.0,5.5],[-2.0,4.8],[0.0,5.2],[2.0,4.5],[4.5,4.0],[-5.0,7.0],[-3.0,7.5],[-1.0,8.0],[1.0,7.2],[3.0,7.8],[-7.5,3.5],
[-4.5,9.0],[-1.5,10.0],[1.5,9.0],[6.0,3.0],[-8.8,-0.8],[-9.2,-4.5],[8.0,-1.0],[8.2,-3.5],[-8.0,-7.5],[-6.0,-9.5],[-3.5,-10.5],
[-1.0,-11.0],[2.0,-10.5],[4.5,-9.5],[7.0,-7.5],[5.5,-8.5]];
var ringF = [[-9.0,-2.7],[-10.5,-0.6],[-8.4,0.3],[-8.8,3.0],[-5.7,2.4],[-5.0,4.3],[-2.9,4.3],[-0.9,6.1],[0.5,4.0],[2.7,4.7],[4.0,3.2],
[6.8,3.4],[6.4,0.8],[8.7,0.1],[8.5,-1.8],[10.5,-3.5],[7.8,-4.8],[8.5,-6.8],[6.8,-7.9],[6.5,-10.3],[3.6,-9.7],[2.7,-11.8],[0.5,-11.2],
[-1.7,-12.8],[-3.0,-10.4],[-5.3,-10.8],[-6.4,-9.2],[-9.0,-9.1],[-8.0,-6.5],[-10.2,-5.4],[-9.8,-3.7],[-10.5,2.8],[3.7,6.6],[10.9,-6.9],
[-4.7,-13.2],[3.5,-12.9]];
var blueF = [[24.8,9.1],[25.5,8.0],[26.5,7.5],[24.4,5.9],[25.5,5.1],[28.5,7.3],[29.7,7.7],[31.0,5.9],[33.6,6.9],[34.8,6.8],[36.8,4.4],
[35.5,12.1],[29.7,11.5],[30.9,10.4],[32.1,10.9],[33.0,12.1],[32.4,9.8],[33.6,9.2],[33.3,10.4],[31.5,9.5],[30.3,9.2],[29.1,10.1],
[31.8,8.6],[34.2,8.6],[32.7,8.0],[30.9,8.0],[30.2,10.1],[32.4,10.7]];

// ---- (g) F-MNIST m=10% ----
var orangeG = [
[-1.3,5.1],[-0.6,5.2],[0.2,5.05],[0.9,5.15],[1.6,5.1],
[-2.3,3.95],[-1.6,4.05],[-0.9,3.9],[-0.2,4.0],[0.5,3.95],[1.2,4.05],[1.9,3.9],[2.6,4.0],
[-2.7,2.8],[-2.0,2.7],[-1.3,2.85],[-0.6,2.75],[0.2,2.8],[0.9,2.7],[1.6,2.85],[2.3,2.75],[3.0,2.8],
[-3.0,1.65],[-2.3,1.75],[-1.6,1.6],[-0.9,1.7],[-0.2,1.65],[0.5,1.75],[1.2,1.6],[1.9,1.7],[2.6,1.65],[3.4,1.75],
[-3.4,0.5],[-2.7,0.4],[-2.0,0.55],[-1.3,0.45],[-0.6,0.5],[0.2,0.4],[0.9,0.55],[1.6,0.45],[2.3,0.5],[3.0,0.4],[3.7,0.55],
[-3.7,-0.65],[-3.0,-0.55],[-2.3,-0.7],[-1.6,-0.6],[-0.9,-0.65],[-0.2,-0.55],[0.5,-0.7],[1.2,-0.6],[1.9,-0.65],[2.6,-0.55],[3.4,-0.7],
[-3.4,-1.8],[-2.7,-1.7],[-2.0,-1.85],[-1.3,-1.75],[-0.6,-1.8],[0.2,-1.7],[0.9,-1.85],[1.6,-1.75],[2.3,-1.8],[3.0,-1.7],[3.7,-1.85],
[-3.7,-2.95],[-3.0,-2.9],[-2.3,-3.0],[-1.6,-2.9],[-0.9,-2.95],[-0.2,-2.85],[0.5,-3.0],[1.2,-2.9],[1.9,-2.95],[2.6,-2.85],[3.4,-3.0],
[-3.4,-4.1],[-2.7,-4.0],[-2.0,-4.15],[-1.3,-4.05],[-0.6,-4.1],[0.2,-4.0],[0.9,-4.15],[1.6,-4.05],[2.3,-4.1],[3.0,-4.0],[3.7,-4.15],
[-3.0,-5.25],[-2.3,-5.2],[-1.6,-5.3],[-0.9,-5.2],[-0.2,-5.25],[0.5,-5.15],[1.2,-5.3],[1.9,-5.2],[2.6,-5.25],[3.4,-5.15],
[-2.7,-6.4],[-2.0,-6.3],[-1.3,-6.45],[-0.6,-6.35],[0.2,-6.4],[0.9,-6.3],[1.6,-6.45],[2.3,-6.35],[3.0,-6.4],
[-2.3,-7.55],[-1.6,-7.5],[-0.9,-7.6],[-0.2,-7.5],[0.5,-7.55],[1.2,-7.45],[1.9,-7.6],[2.6,-7.5],
[-1.3,-8.7],[-0.6,-8.6],[0.2,-8.75],[0.9,-8.65],[1.6,-8.7],
[4.85,-1.8],[4.6,1.45],[3.8,4.3],[2.5,6.4],[1.0,7.6],[-0.7,7.6],[-2.2,6.4],[-3.5,4.3],[-4.3,1.45],[-4.55,-1.8],[-4.3,-5.0],[-3.5,-7.9],
[-2.2,-10.0],[-0.7,-11.2],[1.0,-11.2],[2.5,-10.0],[3.8,-7.9],[4.6,-5.0],
[-3.0,27.0],[-2.6,26.6],[-2.2,26.2],[-5.0,26.3],[-7.9,23.8],[-6.9,22.6],[-4.0,23.1],[-2.4,22.8],[-3.8,22.0],[-4.1,21.0],[-3.4,21.6],
[-3.3,20.4],[-6.5,19.5],[-5.5,19.7],[-2.9,20.4],[-2.4,19.8],[-2.0,19.5],[-1.8,21.3],[-1.4,21.3],[-1.5,20.5],[-1.2,20.5],[0.1,21.3],
[-4.4,17.8],[-4.4,16.6],[-4.2,17.5],[-3.5,17.2],[-3.4,16.4],[-3.2,16.0],[-9.5,16.4],[-6.6,16.3],[-6.1,15.1],[-1.5,16.2],[-0.9,16.2],
[-0.4,16.1],[0.0,16.2],[-2.3,16.9],[-2.8,15.4],[-2.7,15.2],[-3.0,15.0],[-1.0,15.0],[-0.9,14.4],[0.3,14.4],[0.9,13.6],[3.2,13.6],
[-4.8,13.4],[-4.1,14.0],[-4.2,12.6],[-3.5,13.2],[-3.2,13.2],[-2.9,13.0],[-2.8,13.2],[-2.4,12.8],[-1.9,12.2],[-1.7,12.1],[-1.5,12.0],
[-1.1,11.5],[-0.7,10.9],[-0.4,11.2],[0.7,12.4],[1.1,12.1],[0.5,11.5],[1.0,10.9],[-9.6,10.7],[-10.7,9.6],[-5.3,10.5],[-4.9,9.9],
[-7.8,9.2],[-7.9,8.6],[-8.1,7.7],[-8.0,6.3],[-7.9,5.9],[-8.4,5.3],[-6.9,7.3],[-6.5,4.1],[-6.3,3.6],[-8.7,3.1],[-11.2,1.7],[-9.4,1.4],
[-7.5,-0.3],[-7.4,-0.6],[-7.2,-2.2],[-6.8,-2.2],[-8.0,-3.0],[-8.1,-6.6],[-7.8,-7.1],[-7.3,-7.1],[-5.7,-7.7],[-5.4,-7.7],[-4.9,-9.2],
[-5.3,-6.3],[-6.6,-11.7],[-6.4,-12.7],[-6.3,-13.4],[-5.6,-11.5],[-3.4,-13.4],[-3.4,-16.6],[-2.7,-12.6],[-2.4,-12.3],[-1.5,-12.1],
[-1.4,-12.6],[-1.0,-11.2],[-0.6,-10.4],[-0.1,-12.1],[0.1,-13.3],[0.3,-13.4],[-0.2,-15.7],[1.3,-16.0],[1.8,-14.0],[1.5,-11.7],
[1.8,-12.7],[2.1,-12.3],[2.6,-12.4],[2.7,-11.1],[2.9,-10.4],[3.5,-10.7],[3.7,-11.7],[3.9,-12.4],[3.7,-13.2],[4.1,-11.5],[4.2,-10.7],
[4.5,-9.2],[4.0,-9.2],[4.4,-14.7],[5.4,-9.5],[4.9,-4.0],[4.9,-1.8],[5.2,0.0],[4.0,2.7],[3.7,4.3],[2.9,6.7],[2.1,6.2],[1.9,6.3],
[-5.0,8.0],[-5.5,5.5],[-5.8,2.0],[-5.2,-0.5],[-4.8,-3.5],[-5.5,-5.5],[-4.5,-8.0],[-4.6,2.5],[-4.5,5.0],[-3.5,7.0],[-1.5,7.0],[0.5,7.5],
[-2.5,9.0],[-0.5,9.0],[4.5,-6.5],[4.7,-3.0],[-4.0,-10.0],[-2.5,-10.5],[-5.8,6.8],[-6.0,-1.5],[-4.2,0.8]];
var ringG = [[4.5,-2.6],[5.3,-5.0],[4.2,-6.2],[4.4,-9.4],[2.8,-8.7],[2.5,-11.1],[1.4,-11.1],[0.3,-13.2],[-0.4,-10.7],[-1.5,-11.5],
[-2.2,-9.7],[-3.6,-10.0],[-3.4,-6.7],[-4.6,-5.9],[-4.4,-3.6],[-5.5,-1.6],[-4.1,0.1],[-4.5,2.4],[-3.6,3.8],[-3.4,6.7],[-1.9,5.9],
[-1.5,8.5],[-0.3,7.8],[0.7,9.7],[1.4,6.8],[2.6,7.3],[3.2,5.3],[4.5,5.2],[4.0,2.1],[5.1,0.8],[4.9,-1.3],[5.3,-9.1],[-2.0,-13.8],
[-5.7,2.6],[2.3,10.2],[-1.9,9.9]];
var blueG = [[7.9,2.7],[8.2,1.8],[8.4,1.2],[8.8,2.1],[9.1,2.4],[8.1,1.2],[9.7,4.4],[10.0,3.8],[10.3,2.7],[10.6,5.0],[10.9,3.6],[11.2,4.7],
[11.5,3.3],[11.8,5.3],[12.1,4.4],[12.4,3.8],[12.6,5.6],[12.8,4.4],[13.1,2.4],[12.4,0.3],[14.1,0.9],[13.5,6.5],[13.8,5.9],[14.3,7.4],
[14.6,8.3],[14.9,6.8],[15.1,5.6],[15.4,7.1],[15.7,6.2],[16.2,8.0],[16.2,4.1],[15.7,1.5],[14.7,4.4],[14.3,5.3],[14.0,5.0],[14.7,2.7],
[15.1,3.6],[15.6,2.7],[14.4,3.8],[14.1,6.5],[15.0,7.7],[15.4,5.0],[13.5,5.0],[12.4,5.6],[11.8,3.0],[14.6,6.2],[14.9,5.3],[14.4,6.8],
[15.1,6.5]];

// ---- (h) F-MNIST m=20% ----
var orangeH = [
[-1.7,3.05],[-1.0,3.1],[-0.2,3.0],[0.5,3.1],
[-2.8,2.5],[-2.1,2.45],[-1.3,2.55],[-0.6,2.45],[0.1,2.5],[0.9,2.4],[1.6,2.5],
[-3.2,1.9],[-2.4,1.95],[-1.7,1.85],[-1.0,1.95],[-0.2,1.9],[0.5,1.85],[1.2,1.95],[2.0,1.9],
[-3.5,1.3],[-2.8,1.35],[-2.1,1.25],[-1.3,1.35],[-0.6,1.3],[0.1,1.25],[0.9,1.35],[1.6,1.3],[2.3,1.25],
[-3.9,0.75],[-3.2,0.7],[-2.4,0.8],[-1.7,0.7],[-1.0,0.75],[-0.2,0.7],[0.5,0.8],[1.2,0.7],[2.0,0.75],[2.7,0.7],
[-4.3,0.15],[-3.5,0.2],[-2.8,0.1],[-2.1,0.2],[-1.3,0.15],[-0.6,0.2],[0.1,0.1],[0.9,0.2],[1.6,0.15],[2.3,0.2],[3.1,0.1],
[-4.6,-0.4],[-3.9,-0.45],[-3.2,-0.35],[-2.4,-0.45],[-1.7,-0.4],[-1.0,-0.45],[-0.2,-0.35],[0.5,-0.45],[1.2,-0.4],[2.0,-0.45],[2.7,-0.35],
[-4.3,-1.0],[-3.5,-0.95],[-2.8,-1.05],[-2.1,-0.95],[-1.3,-1.0],[-0.6,-0.95],[0.1,-1.05],[0.9,-0.95],[1.6,-1.0],[2.3,-0.95],[3.1,-1.05],
[-4.6,-1.6],[-3.9,-1.55],[-3.2,-1.65],[-2.4,-1.55],[-1.7,-1.6],[-1.0,-1.55],[-0.2,-1.65],[0.5,-1.55],[1.2,-1.6],[2.0,-1.55],[2.7,-1.65],
[-4.3,-2.15],[-3.5,-2.2],[-2.8,-2.1],[-2.1,-2.2],[-1.3,-2.15],[-0.6,-2.2],[0.1,-2.1],[0.9,-2.2],[1.6,-2.15],[2.3,-2.2],[3.1,-2.1],
[-3.9,-2.75],[-3.2,-2.7],[-2.4,-2.8],[-1.7,-2.7],[-1.0,-2.75],[-0.2,-2.7],[0.5,-2.8],[1.2,-2.7],[2.0,-2.75],[2.7,-2.7],
[-3.5,-3.3],[-2.8,-3.35],[-2.1,-3.25],[-1.3,-3.35],[-0.6,-3.3],[0.1,-3.25],[0.9,-3.35],[1.6,-3.3],[2.3,-3.25],
[-3.2,-3.9],[-2.4,-3.95],[-1.7,-3.85],[-1.0,-3.95],[-0.2,-3.9],[0.5,-3.85],[1.2,-3.95],[2.0,-3.9],
[-2.8,-4.5],[-2.1,-4.45],[-1.3,-4.55],[-0.6,-4.45],[0.1,-4.5],[0.9,-4.4],[1.6,-4.5],
[-1.7,-5.05],[-1.0,-5.1],[-0.2,-5.0],[0.5,-5.1],
[4.3,-1.0],[4.0,0.8],[3.2,2.4],[1.9,3.6],[0.3,4.2],[-1.5,4.2],[-3.1,3.6],[-4.4,2.4],[-5.2,0.8],[-5.5,-1.0],[-5.2,-2.8],[-4.4,-4.4],
[-3.1,-5.6],[-1.5,-6.2],[0.3,-6.2],[1.9,-5.6],[3.2,-4.4],[4.0,-2.8],
[-3.7,12.2],[-3.0,11.3],[-3.4,11.3],[-2.3,11.8],[-0.7,12.2],[-7.9,10.5],[-5.9,10.5],[-5.0,10.0],[-4.5,10.1],[-3.1,10.0],[-2.4,10.7],
[-2.5,10.1],[-1.8,10.1],[-1.7,9.8],[-1.5,9.9],[0.5,10.0],[1.8,8.8],[-6.3,9.6],[-5.8,8.8],[-5.5,7.8],[-4.9,8.2],[-2.7,9.6],[-2.6,9.3],
[-2.4,9.2],[-2.9,9.3],[-3.7,9.3],[-3.6,8.6],[-3.4,8.3],[-3.8,7.7],[-3.7,7.3],[-0.8,9.6],[-0.6,9.2],[-1.7,9.0],[-1.4,9.2],[-0.9,8.8],
[-2.6,8.4],[-2.0,8.0],[-1.4,7.5],[-0.8,7.8],[-0.2,8.1],[0.2,8.1],[0.2,7.4],[0.5,7.5],[-9.9,6.4],[-8.3,7.3],[-6.9,7.2],[-7.7,5.7],
[-6.7,5.4],[-6.6,5.2],[-4.9,5.7],[-4.8,6.0],[-4.6,6.3],[-3.8,6.9],[-3.7,6.6],[-2.9,6.6],[-2.6,5.9],[-3.0,5.3],[-2.1,5.6],[-1.2,5.7],
[-0.9,6.3],[-0.5,6.3],[0.2,6.7],[-0.3,5.9],[-6.9,3.8],[-6.1,4.3],[-5.9,4.1],[-5.9,3.4],[-13.8,0.6],[-13.0,-4.0],[-11.4,-0.4],
[-11.6,-1.7],[-11.2,-2.4],[-10.4,-0.1],[-10.1,-3.7],[-9.3,-1.5],[-9.2,-4.6],[-8.8,-0.4],[-8.6,-3.2],[-8.4,-2.5],[-8.3,0.1],[-7.5,0.0],
[-7.9,-6.8],[-8.0,-4.2],[-7.2,-4.2],[-7.5,-1.9],[-7.2,-2.1],[-6.4,0.5],[-6.4,-1.3],[-6.4,-2.5],[-6.4,-3.9],[-6.1,2.3],[-5.9,2.5],
[-5.8,2.3],[-5.6,0.8],[-5.0,2.3],[-4.9,2.8],[-5.2,-5.2],[-5.0,-4.3],[-4.7,-4.9],[-4.6,-3.7],[-2.7,-6.4],[-1.2,-7.6],[-0.1,-7.1],
[-2.0,-5.8],[-1.5,-5.6],[-0.8,-6.1],[-0.2,-6.1],[0.6,-6.1],[0.5,-5.5],[1.3,-6.6],[2.7,-4.9],[2.6,-5.6],[3.2,-5.7],[4.0,-4.7],[4.2,-5.0],
[4.0,-3.9],[4.0,-9.7],[3.4,2.5],[3.0,5.0],[2.4,4.6],[2.4,3.7],[2.7,3.5],[1.8,3.7],[2.1,3.1],[2.0,2.4],[1.1,2.4],[4.0,-1.4],[3.8,-2.2],
[3.7,-2.6],[3.4,-3.2],[4.1,-1.8],[4.4,-0.5],[5.4,-0.6],[2.8,-1.3],[2.6,-2.0],
[-5.5,-0.5],[-5.2,1.5],[-5.8,-2.0],[-5.0,3.8],[-4.0,4.5],[-2.0,4.3],[0.0,4.2],[1.0,5.0],[-3.0,-5.5],[3.6,0.5],[3.5,-0.8],[-4.2,5.3],
[-1.5,3.9]];
var ringH = [[-5.1,-0.6],[-5.9,0.7],[-4.8,1.4],[-5.0,3.1],[-3.3,2.7],[-3.0,4.0],[-1.8,4.0],[-0.8,5.1],[0.0,3.8],[1.1,4.2],[1.8,3.2],
[3.2,3.4],[3.0,1.6],[4.3,1.2],[4.1,0.0],[5.2,-1.1],[3.8,-2.0],[4.2,-3.3],[3.2,-4.0],[3.1,-5.5],[1.5,-5.1],[1.1,-6.5],[-0.1,-6.1],
[-1.2,-7.2],[-1.9,-5.6],[-3.1,-5.9],[-3.7,-4.8],[-5.1,-4.8],[-4.6,-3.1],[-5.7,-2.4],[-5.5,-1.3],[-5.8,3.0],[1.6,5.5],[5.4,-3.4],
[-2.8,-7.5],[1.5,-7.3]];
var blueH = [[3.6,0.1],[7.2,0.4],[7.6,0.8],[8.1,1.1],[8.7,0.2],[8.2,1.9],[8.8,1.6],[9.3,2.3],[9.6,1.7],[9.1,1.1],[9.8,0.5],[10.1,1.3],
[10.4,2.0],[10.7,1.6],[11.0,1.1],[10.7,0.2],[10.4,-0.1],[11.3,1.7],[11.6,2.3],[12.0,2.6],[12.3,3.2],[12.7,1.7],[12.8,2.9],[13.1,3.7],
[13.6,3.2],[14.2,3.5],[13.7,2.3],[13.3,2.0],[13.9,1.3],[14.5,1.7],[14.6,0.5],[14.8,-0.2],[14.3,-0.4],[13.3,1.1],[12.8,0.8],[12.3,0.5],
[12.0,-0.1],[12.0,-1.0],[11.7,-0.7],[12.5,0.2],[11.6,0.8],[11.0,-0.1],[9.9,2.3],[10.5,2.6],[11.1,2.3]];

var orangeSets = [orangeA.concat(ringA),orangeB.concat(ringB),orangeC.concat(ringC),orangeD.concat(ringD),
                  orangeE.concat(ringE),orangeF.concat(ringF),orangeG.concat(ringG),orangeH.concat(ringH)];
var blueSets = [blueA,blueB,blueC,blueD,blueE,blueF,blueG,blueH];

// ---- page layout (pixels) ----
var layout = [
  {left:12,    right:337,  top:3,   bottom:255, capX:5,    capY:317, capW:313, frame:["#eee","#eee","#dcdcdc","#999"]},
  {left:369,   right:694,  top:3,   bottom:255, capX:372,  capY:317, capW:311, frame:["#aaa","#e8e8e8","#bbb","#999"]},
  {left:727.7, right:1052.7,top:3,  bottom:255, capX:722,  capY:317, capW:324, frame:["#eee","#999","#dcdcdc","#aaa"]},
  {left:1085.7,right:1410, top:3,   bottom:255, capX:1075, capY:317, capW:330, frame:["#eee","#bbb","#dcdcdc","#aaa"]},
  {left:11.7,  right:337,  top:335, bottom:586, capX:5,    capY:648, capW:308, frame:["#f0f0f0","#f0f0f0","#e2e2e2","#999"]},
  {left:369,   right:694,  top:335, bottom:586, capX:372,  capY:648, capW:311, frame:["#f0f0f0","#f0f0f0","#e2e2e2","#999"]},
  {left:727.7, right:1052.7,top:335,bottom:586, capX:722,  capY:648, capW:324, frame:["#f0f0f0","#999","#e2e2e2","#aaa"]},
  {left:1085.7,right:1409, top:335, bottom:586, capX:1075, capY:648, capW:330, frame:["#f0f0f0","#bbb","#e2e2e2","#aaa"]}
];

var ORANGE = "#f7941d", BLUE = "#1a3cf2";

var svg = d3.select("#fig").append("svg").attr("width",1412).attr("height",659)
    .style("background","#fff");

layout.forEach(function(L, i){
    var x = d3.scaleLinear().domain(xDomains[i]).range([L.left, L.right]);
    var y = d3.scaleLinear().domain(yDomains[i]).range([L.bottom, L.top]);
    var g = svg.append("g").attr("class","panel");

    // frame: top, right, bottom, left
    g.append("line").attr("x1",L.left).attr("x2",L.right).attr("y1",L.top).attr("y2",L.top).attr("stroke",L.frame[0]);
    g.append("line").attr("x1",L.right).attr("x2",L.right).attr("y1",L.top).attr("y2",L.bottom).attr("stroke",L.frame[1]);
    g.append("line").attr("x1",L.left).attr("x2",L.right).attr("y1",L.bottom).attr("y2",L.bottom).attr("stroke",L.frame[2]);
    g.append("line").attr("x1",L.left).attr("x2",L.left).attr("y1",L.top).attr("y2",L.bottom).attr("stroke",L.frame[3]).attr("stroke-width",1.3);

    // tiny tick labels
    g.selectAll(".xt").data(xTickVals[i]).enter().append("text").attr("class","tick-label")
        .attr("x",d=>x(d)).attr("y",L.bottom+6).attr("text-anchor","middle").text(d=>d);
    g.selectAll(".yt").data(yTickVals[i]).enter().append("text").attr("class","tick-label")
        .attr("x",L.left-3).attr("y",d=>y(d)+1.5).attr("text-anchor","end").text(d=>d);

    // clean points
    g.selectAll(".dot").data(orangeSets[i]).enter().append("circle")
        .attr("cx",d=>x(d[0])).attr("cy",d=>y(d[1])).attr("r",3.5).attr("fill",ORANGE);

    // poisoned points drawn as crosses
    var s = 5.5;
    g.selectAll(".cross").data(blueSets[i]).enter().append("path")
        .attr("d",function(d){
            var cx = x(d[0]), cy = y(d[1]);
            return "M"+(cx-s)+","+(cy-s)+"L"+(cx+s)+","+(cy+s)+"M"+(cx-s)+","+(cy+s)+"L"+(cx+s)+","+(cy-s);
        })
        .attr("stroke",BLUE).attr("stroke-width",2).attr("fill","none");

    // caption
    var cap = svg.append("text").attr("class","caption").attr("x",L.capX).attr("y",L.capY)
        .attr("textLength",L.capW).attr("lengthAdjust","spacingAndGlyphs");
    cap.append("tspan").text(panelLetters[i]+" "+datasetNames[i]+" ");
    cap.append("tspan").style("font-style","italic").text("m");
    cap.append("tspan").text(mLabels[i]);
});
</script>
</body>
</html>
